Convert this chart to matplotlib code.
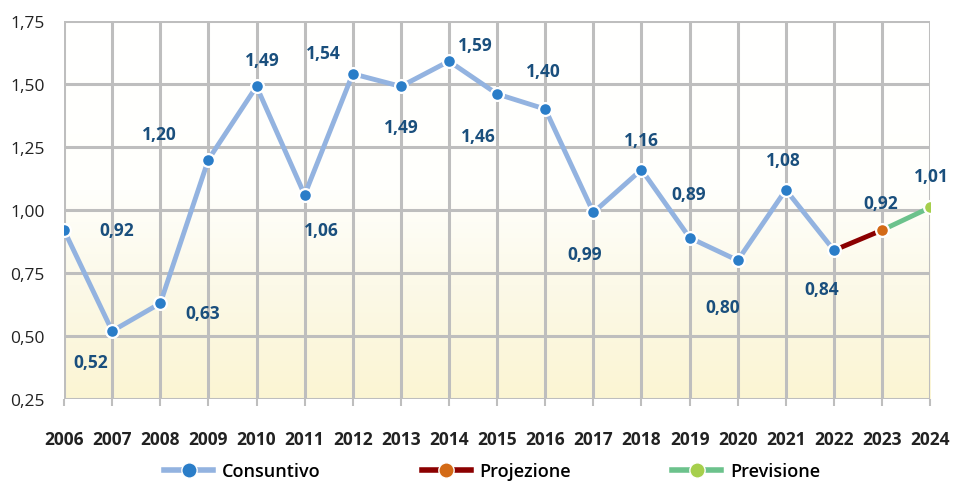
import numpy as np
import matplotlib
matplotlib.use("Agg")
import matplotlib.pyplot as plt
from matplotlib.colors import LinearSegmentedColormap
from matplotlib.lines import Line2D

plt.rcParams["font.family"] = ["Open Sans", "DejaVu Sans"]

# data
years = list(range(2006, 2025))
consuntivo = [0.92, 0.52, 0.63, 1.20, 1.49, 1.06, 1.54, 1.49, 1.59, 1.46,
              1.40, 0.99, 1.16, 0.89, 0.80, 1.08, 0.84]
proiezione = [0.84, 0.92]      # 2022 -> 2023
previsione = [0.92, 1.01]      # 2023 -> 2024
yticks = [0.25, 0.50, 0.75, 1.00, 1.25, 1.50, 1.75]

# label offsets in pixels (dx, dy) for each year
label_offsets = [(53, 0), (-21, -31), (42, -10), (-49, 26), (6, 26), (17, -35),
                 (-29, 21), (0, -41), (26, 16), (-19, -42), (-2, 38), (-9, -42),
                 (0, 30), (-1, 44), (-15, -47), (-3, 30), (-12, -39), (-1, 27),
                 (1, 31)]

fig = plt.figure(figsize=(9.56, 4.85), dpi=100)
ax = fig.add_axes([0.067, 0.175, 0.906, 0.780])

x_min, x_max = years[0], years[-1]
ax.set_xlim(x_min, x_max)
ax.set_ylim(0.25, 1.75)

# background gradient: white at top, pale yellow at bottom
cmap = LinearSegmentedColormap.from_list(
    "bg", [(0.0, "#fbf5d3"), (0.3, "#fcf9e8"), (0.55, "#fffffc"), (1.0, "#ffffff")])
grad = np.linspace(0, 1, 256).reshape(-1, 1)
ax.imshow(grad, extent=[x_min, x_max, 0.25, 1.75], origin="lower",
          aspect="auto", cmap=cmap, zorder=0)

# grid
for yv in yticks:
    ax.axhline(yv, color="#bebebe", lw=2.2, zorder=1)
for xv in years:
    ax.axvline(xv, color="#bebebe", lw=2.2, zorder=1)
for s in ax.spines.values():
    s.set_visible(False)

# lines
ax.plot(years[:len(consuntivo)], consuntivo, color="#93b3e0", lw=3.5, zorder=3,
        solid_capstyle="round")
ax.plot(years[16:18], proiezione, color="#8b0000", lw=3.5, zorder=3)
ax.plot(years[17:19], previsione, color="#6cc28c", lw=3.5, zorder=3)

ax.scatter(years[:len(consuntivo)], consuntivo, s=85, color="#2a7dc8",
           edgecolor="white", linewidth=1.6, zorder=4)
ax.scatter([years[17]], [proiezione[1]], s=85, color="#d36a16",
           edgecolor="white", linewidth=1.6, zorder=4)
ax.scatter([years[18]], [previsione[1]], s=85, color="#a6cf4c",
           edgecolor="white", linewidth=1.6, zorder=4)

# data labels
all_values = consuntivo + [proiezione[1], previsione[1]]
for yr, v, (dx, dy) in zip(years, all_values, label_offsets):
    ax.annotate(f"{v:.2f}".replace(".", ","), (yr, v), xytext=(dx, dy),
                textcoords="offset pixels", ha="center", va="center",
                fontsize=12.5, fontweight="bold", color="#1a4f7d", zorder=5)

# ticks
ax.set_xticks(years)
ax.set_xticklabels([str(y) for y in years], fontsize=12.5, fontweight="bold",
                   color="#222222")
ax.set_yticks(yticks)
ax.set_yticklabels([f"{v:.2f}".replace(".", ",") for v in yticks],
                   fontsize=12.5, color="#222222")
ax.tick_params(axis="x", length=5, width=1.5, color="#bebebe", pad=17)
ax.tick_params(axis="y", length=0, pad=14)

# legend
handles = [
    Line2D([0], [0], color="#93b3e0", lw=4, marker="o", markersize=11,
           markerfacecolor="#2a7dc8", markeredgecolor="white"),
    Line2D([0], [0], color="#8b0000", lw=4, marker="o", markersize=11,
           markerfacecolor="#d36a16", markeredgecolor="white"),
    Line2D([0], [0], color="#6cc28c", lw=4, marker="o", markersize=11,
           markerfacecolor="#a6cf4c", markeredgecolor="white"),
]
fig.legend(handles, ["Consuntivo", "Projezione", "Previsione"], loc="center",
           bbox_to_anchor=(0.515, 0.026), ncol=3, frameon=False,
           handlelength=2.7, handletextpad=0.5, columnspacing=5.6,
           prop={"weight": "semibold", "size": 13})

fig.savefig("out.png", dpi=100)
